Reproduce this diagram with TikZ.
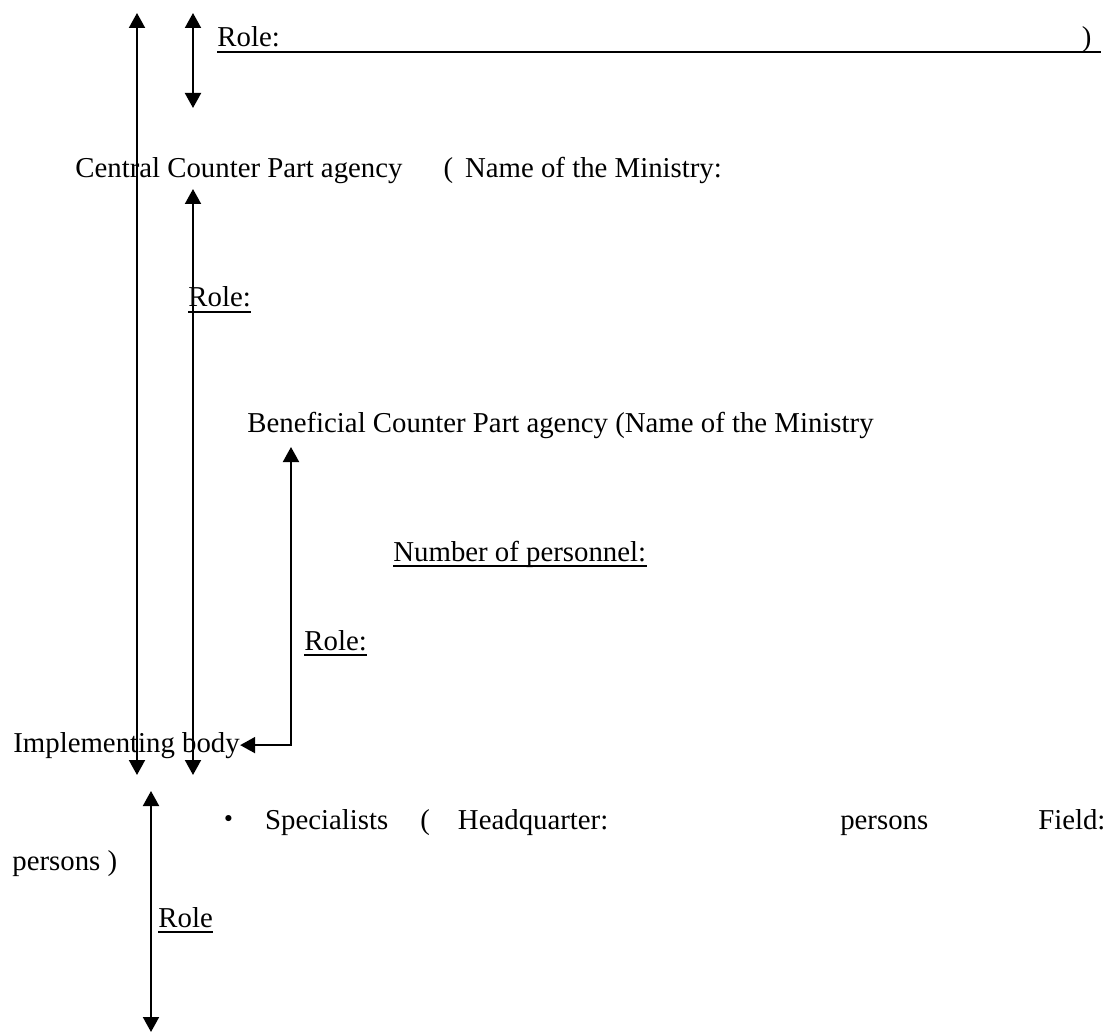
\documentclass[tikz,border=0pt]{standalone}
\usepackage{fontspec}
\setmainfont{Liberation Serif}
\newfontfamily\cjk{Noto Sans CJK JP}
\usetikzlibrary{arrows.meta}
\newdimen\pxu \pxu=0.5pt

\begin{document}
\begin{tikzpicture}[
  x=0.5pt,y=-0.5pt,
  txt/.style={inner sep=0pt,anchor=base west,font=\fontsize{14.4}{17}\selectfont},
  uline/.style={append after command={([yshift=-2.3pt]\tikzlastnode.base west)
      edge[line width=1pt] ([yshift=-2.3pt]\tikzlastnode.base east)}},
  twoway/.style={{Triangle[length=7.5pt,width=8pt]}-{Triangle[length=7.5pt,width=8pt]},line width=1pt},
  ulink/.style={line width=1pt}
]
  \useasboundingbox (0,0) rectangle (1120,1032);

  % texts
  \node[txt] (r1) at (217,47) {Role:\hspace*{802\pxu})};
  \coordinate (ulend) at (1101,47);
  \draw[ulink] ([yshift=-2.3pt]r1.base west) -- ([yshift=-2.3pt]ulend);
  \node[txt] (ccpa) at (75,178) {Central Counter Part agency\hspace*{41\pxu}(\hspace*{12\pxu}Name of the Ministry:};
  \node[txt,uline] (r2) at (188,307) {Role:};
  \node[txt] (bcpa) at (247,432) {Beneficial Counter Part agency (Name of the Ministry};
  \node[txt,uline] (nop) at (393,561) {Number of personnel:};
  \node[txt,uline] (r3) at (304,650) {Role:};
  \node[txt] (ib) at (13,752) {Implementing body};
  \node[txt] (sp) at (214,829) {{\cjk ・}\hspace*{22\pxu}Specialists\hspace*{32\pxu}(\hspace*{28\pxu}Headquarter:\hspace*{232\pxu}persons\hspace*{110\pxu}Field:};
  \node[txt] (pers) at (12,870) {persons )};
  \node[txt,uline] (r4) at (158,927) {Role};

  % arrows
  \coordinate (a1) at (137,13);  \coordinate (a2) at (137,775);
  \coordinate (b1) at (193,13);  \coordinate (b2) at (193,108);
  \coordinate (c1) at (193,189); \coordinate (c2) at (193,775);
  \coordinate (d1) at (291,447);
  \coordinate (e1) at (151,791); \coordinate (e2) at (151,1032);
  \draw[twoway] (a1) -- (a2);
  \draw[twoway] (b1) -- (b2);
  \draw[twoway] (c1) -- (c2);
  \draw[twoway] (d1) |- (ib.east);
  \draw[twoway] (e1) -- (e2);
\end{tikzpicture}
\end{document}
